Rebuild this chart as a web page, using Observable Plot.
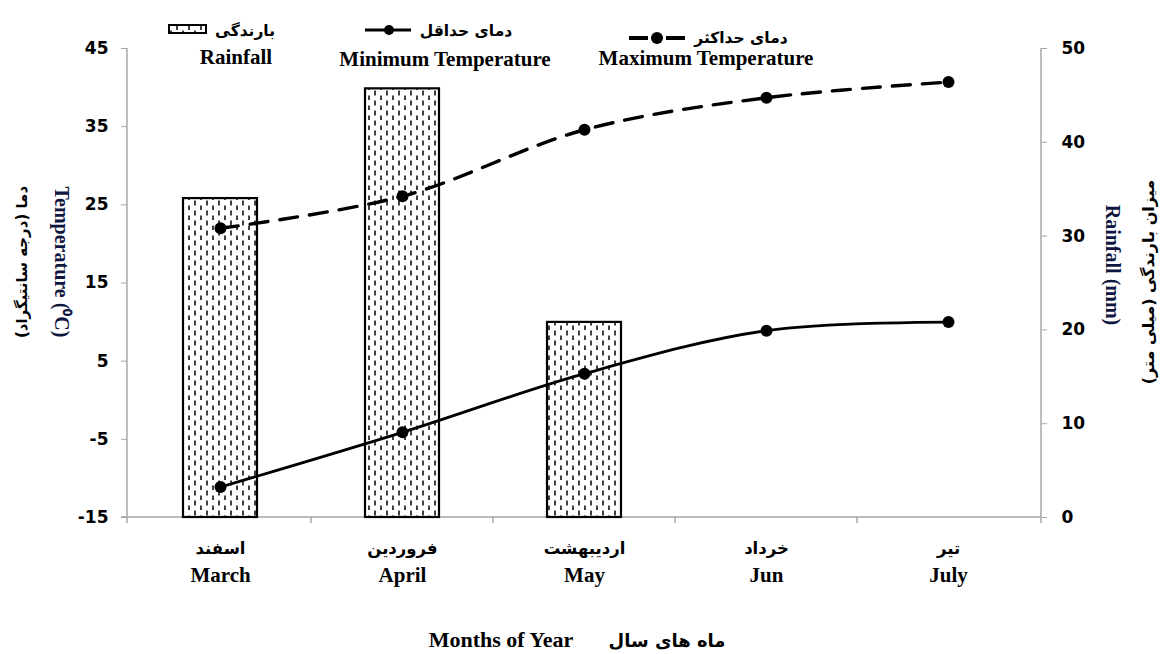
<!DOCTYPE html>
<html><head><meta charset="utf-8">
<script src="https://cdn.jsdelivr.net/npm/d3@7"></script>
<script src="https://cdn.jsdelivr.net/npm/@observablehq/plot@0.6"></script>
<style>
body{margin:0;background:#fff;}
#chart svg{display:block;background:#fff;}
</style></head><body><div id="chart"></div>
<script>
// ---- data ----
const months = ["March", "April", "May", "Jun", "July"];
const monthsFa = ["اسفند", "فروردین", "اردیبهشت", "خرداد", "تیر"];
const rainfall = [34.0, 45.7, 20.8, null, null];     // mm
const minTemp = [-11.1, -4.1, 3.4, 8.9, 10.0];        // °C
const maxTemp = [22.0, 26.1, 34.6, 38.7, 40.7];       // °C
const tempTicks = [-15, -5, 5, 15, 25, 35, 45];
const rainTicks = [0, 10, 20, 30, 40, 50];

const T0 = -15, T1 = 45, R1 = 50;
const r2t = r => T0 + r * (T1 - T0) / R1;
const t2r = t => String(Math.round((t - T0) * R1 / (T1 - T0)));

const rows = months.map((m, i) => ({month: m, fa: monthsFa[i], rain: rainfall[i], min: minTemp[i], max: maxTemp[i]}));
const rainRows = rows.filter(d => d.rain != null);

const serif = "'Liberation Serif','Times New Roman',serif";
const sans = "'DejaVu Sans',sans-serif";
const navy = "#0f1640";

const W = 1166, H = 654, ML = 127, MR = 125, MT = 48, MB = 137;

const chart = Plot.plot({
  width: W, height: H,
  marginLeft: ML, marginRight: MR, marginTop: MT, marginBottom: MB,
  x: {type: "band", domain: months, padding: 0, axis: null},
  y: {domain: [T0, T1], axis: null},
  marks: [
    Plot.barY(rainRows, {x: "month", y1: T0, y2: d => r2t(d.rain), fill: "white", stroke: "black", strokeWidth: 2.2, insetLeft: 54, insetRight: 54}),
    Plot.line(rows, {x: "month", y: "max", curve: "catmull-rom", stroke: "black", strokeWidth: 3.4, strokeDasharray: "18,12"}),
    Plot.line(rows, {x: "month", y: "min", curve: "catmull-rom", stroke: "black", strokeWidth: 2.8}),
    Plot.dot(rows, {x: "month", y: "max", r: 6, fill: "black"}),
    Plot.dot(rows, {x: "month", y: "min", r: 6, fill: "black"}),
    Plot.axisY(tempTicks, {anchor: "left", tickSize: 6, tickPadding: 13, tickFormat: d => String(d), stroke: "#a6a6a6", label: null, fontSize: 17, fontWeight: "bold", fontFamily: sans, fill: "black"}),
    Plot.axisY(rainTicks.map(r2t), {anchor: "right", tickSize: 5, tickPadding: 15, tickFormat: t2r, stroke: "#a6a6a6", label: null, fontSize: 17, fontWeight: "bold", fontFamily: sans, fill: "black"}),
    Plot.text(rows, {x: "month", y: T0, text: "fa", dy: 31, fontSize: 16.5, fontWeight: "bold", fontFamily: sans, fill: "black"}),
    Plot.text(rows, {x: "month", y: T0, text: "month", dy: 58, fontSize: 21, fontWeight: "bold", fontFamily: serif, fill: "black"})
  ]
});
document.getElementById("chart").appendChild(chart);

const svg = d3.select(chart);
// pattern for the rainfall bars
const defs = svg.insert("defs", ":first-child");
const pat = defs.append("pattern").attr("id", "rainPattern").attr("width", 12).attr("height", 10).attr("patternUnits", "userSpaceOnUse");
pat.append("rect").attr("width", 12).attr("height", 10).attr("fill", "white");
pat.append("line").attr("x1", 3).attr("x2", 3).attr("y1", 0.5).attr("y2", 5.5).attr("stroke", "black").attr("stroke-width", 1.5);
pat.append("line").attr("x1", 9).attr("x2", 9).attr("y1", 5.5).attr("y2", 10.5).attr("stroke", "black").attr("stroke-width", 1.5);
svg.selectAll('g[aria-label="bar"] rect').attr("fill", "url(#rainPattern)");

// axis lines and x ticks
const xs = chart.scale("x"), ys = chart.scale("y");
const xL = ML, xR = W - MR, yB = ys.apply(T0), yT = ys.apply(T1);
const axisG = svg.insert("g", "defs + *").attr("stroke", "#a6a6a6").attr("stroke-width", 1.5);
axisG.append("line").attr("x1", xL).attr("x2", xL).attr("y1", yT).attr("y2", yB + 6);
axisG.append("line").attr("x1", xR).attr("x2", xR).attr("y1", yT).attr("y2", yB + 6);
axisG.append("line").attr("x1", xL - 6).attr("x2", xR).attr("y1", yB).attr("y2", yB);
months.slice(1).forEach(m => {
  const x = xs.apply(m);
  axisG.append("line").attr("x1", x).attr("x2", x).attr("y1", yB).attr("y2", yB + 6);
});

// legend
const fa = (g, x, y, size, txt) => g.append("text").attr("x", x).attr("y", y).attr("text-anchor", "middle").attr("direction", "rtl").attr("font-family", sans).attr("font-weight", "bold").attr("font-size", size).attr("fill", "black").text(txt);
const en = (g, x, y, size, txt) => g.append("text").attr("x", x).attr("y", y).attr("text-anchor", "middle").attr("font-family", serif).attr("font-weight", "bold").attr("font-size", size).attr("fill", "black").text(txt);

const lg = svg.append("g");
lg.append("rect").attr("x", 169).attr("y", 25).attr("width", 37).attr("height", 8).attr("fill", "url(#rainPattern)").attr("stroke", "black").attr("stroke-width", 2);
fa(lg, 245, 36, 15.5, "بارندگی");
en(lg, 236, 64, 21, "Rainfall");

lg.append("line").attr("x1", 365).attr("x2", 411).attr("y1", 30).attr("y2", 30).attr("stroke", "black").attr("stroke-width", 3);
lg.append("circle").attr("cx", 389).attr("cy", 30).attr("r", 5).attr("fill", "black");
fa(lg, 466, 36, 15.5, "دمای حداقل");
en(lg, 445, 66, 21, "Minimum Temperature");

lg.append("line").attr("x1", 629).attr("x2", 648).attr("y1", 38).attr("y2", 38).attr("stroke", "black").attr("stroke-width", 4);
lg.append("line").attr("x1", 666).attr("x2", 685).attr("y1", 38).attr("y2", 38).attr("stroke", "black").attr("stroke-width", 4);
lg.append("circle").attr("cx", 657).attr("cy", 38).attr("r", 6).attr("fill", "black");
fa(lg, 741, 43, 15.5, "دمای حداکثر");
en(lg, 706, 65, 21, "Maximum Temperature");

// axis titles
const tt = svg.append("g");
tt.append("text").attr("transform", "translate(62,262) rotate(90)").attr("text-anchor", "middle").attr("dominant-baseline", "central").attr("font-family", serif).attr("font-weight", "bold").attr("font-size", 20).attr("fill", navy).text("Temperature (⁰C)");
tt.append("text").attr("transform", "translate(22,262) rotate(-90)").attr("text-anchor", "middle").attr("dominant-baseline", "central").attr("direction", "rtl").attr("font-family", sans).attr("font-weight", "bold").attr("font-size", 15).attr("fill", "black").text("دما (درجه سانتیگراد)");
tt.append("text").attr("transform", "translate(1113,265) rotate(90)").attr("text-anchor", "middle").attr("dominant-baseline", "central").attr("font-family", serif).attr("font-weight", "bold").attr("font-size", 20).attr("fill", navy).text("Rainfall (mm)");
tt.append("text").attr("transform", "translate(1148,282) rotate(-90)").attr("text-anchor", "middle").attr("dominant-baseline", "central").attr("direction", "rtl").attr("font-family", sans).attr("font-weight", "bold").attr("font-size", 16).attr("fill", "black").text("میزان بارندگی (میلی متر)");

// x title
en(tt, 501, 647, 22, "Months of Year");
fa(tt, 667, 647, 18, "ماه های سال");
</script></body></html>
